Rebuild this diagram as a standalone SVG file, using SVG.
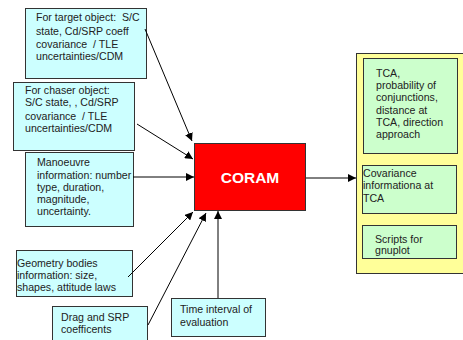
<svg xmlns="http://www.w3.org/2000/svg" width="463" height="340" viewBox="0 0 463 340">
  <style>
    .in { fill: #CCFFFF; stroke: #333333; stroke-width: 1; }
    .out { fill: #CCFFCC; stroke: #333333; stroke-width: 1; }
    .t { font-family: "Liberation Sans", Arial, sans-serif; font-size: 10.6px; fill: #222222; white-space: pre; }
    .edge { stroke: #000000; stroke-width: 1; fill: none; marker-end: url(#arr); }
  </style>
  <defs>
    <marker id="arr" viewBox="0 0 10 10" refX="10" refY="5" markerWidth="8" markerHeight="8" markerUnits="userSpaceOnUse" orient="auto">
      <path d="M0,0 L10,5 L0,10 z" fill="#000000"/>
    </marker>
  </defs>
  <rect width="463" height="340" fill="#FFFFFF"/>

  <g id="output-container">
    <rect x="356.5" y="53.5" width="110" height="220" fill="#FFFF99" stroke="#333333"/>
  </g>

  <g id="target-object">
    <rect class="in" x="25.5" y="8.5" width="121" height="70"/>
    <text class="t" x="36" y="21" xml:space="preserve">For target object:  S/C</text>
    <text class="t" x="36" y="35">state, Cd/SRP coeff</text>
    <text class="t" x="36" y="48" xml:space="preserve">covariance  / TLE</text>
    <text class="t" x="36" y="60">uncertainties/CDM</text>
  </g>

  <g id="chaser-object">
    <rect class="in" x="13.5" y="82.5" width="121" height="68"/>
    <text class="t" x="25" y="94">For chaser object:</text>
    <text class="t" x="25" y="106">S/C state, , Cd/SRP</text>
    <text class="t" x="25" y="120" xml:space="preserve">covariance  / TLE</text>
    <text class="t" x="25" y="132">uncertainties/CDM</text>
  </g>

  <g id="manoeuvre">
    <rect class="in" x="25.5" y="152.5" width="108" height="74"/>
    <text class="t" x="37" y="166">Manoeuvre</text>
    <text class="t" x="37" y="179">information: number</text>
    <text class="t" x="37" y="191">type, duration,</text>
    <text class="t" x="37" y="203">magnitude,</text>
    <text class="t" x="37" y="215">uncertainty.</text>
  </g>

  <g id="geometry">
    <rect class="in" x="16.5" y="250.5" width="116" height="46"/>
    <text class="t" x="17" y="267">Geometry bodies</text>
    <text class="t" x="17" y="279">information: size,</text>
    <text class="t" x="17" y="291">shapes, attitude laws</text>
  </g>

  <g id="drag-srp">
    <rect class="in" x="52.5" y="306.5" width="95" height="40"/>
    <text class="t" x="61" y="321">Drag and SRP</text>
    <text class="t" x="61" y="333">coefficents</text>
  </g>

  <g id="time-interval">
    <rect class="in" x="171.5" y="298.5" width="94" height="38"/>
    <text class="t" x="180" y="313">Time interval of</text>
    <text class="t" x="180" y="326">evaluation</text>
  </g>

  <g id="coram">
    <rect x="194.5" y="143.5" width="111" height="67" fill="#FF0000" stroke="#333333"/>
    <text x="250" y="183" text-anchor="middle" font-family="Liberation Sans, Arial, sans-serif" font-size="15.5" font-weight="bold" fill="#FFFFFF">CORAM</text>
  </g>

  <g id="result-tca">
    <rect class="out" x="363.5" y="58.5" width="94" height="95"/>
    <text class="t" x="376" y="77">TCA,</text>
    <text class="t" x="376" y="89">probability of</text>
    <text class="t" x="376" y="101">conjunctions,</text>
    <text class="t" x="376" y="114">distance at</text>
    <text class="t" x="376" y="126">TCA, direction</text>
    <text class="t" x="376" y="138">approach</text>
  </g>

  <g id="result-covariance">
    <rect class="out" x="362.5" y="165.5" width="94" height="48"/>
    <text class="t" x="363" y="177">Covariance</text>
    <text class="t" x="363" y="189">informationa at</text>
    <text class="t" x="363" y="202">TCA</text>
  </g>

  <g id="result-scripts">
    <rect class="out" x="362.5" y="225.5" width="94" height="33"/>
    <text class="t" x="375" y="243">Scripts for</text>
    <text class="t" x="375" y="254">gnuplot</text>
  </g>

  <g id="connectors">
    <line class="edge" x1="145" y1="29" x2="192" y2="141"/>
    <line class="edge" x1="137" y1="124" x2="193" y2="159"/>
    <line class="edge" x1="133" y1="177" x2="194" y2="177"/>
    <line class="edge" x1="128" y1="277" x2="193" y2="212"/>
    <line class="edge" x1="148" y1="325" x2="206" y2="213"/>
    <line class="edge" x1="218" y1="298" x2="218" y2="211"/>
    <line class="edge" x1="306" y1="178" x2="356" y2="178"/>
  </g>
</svg>
